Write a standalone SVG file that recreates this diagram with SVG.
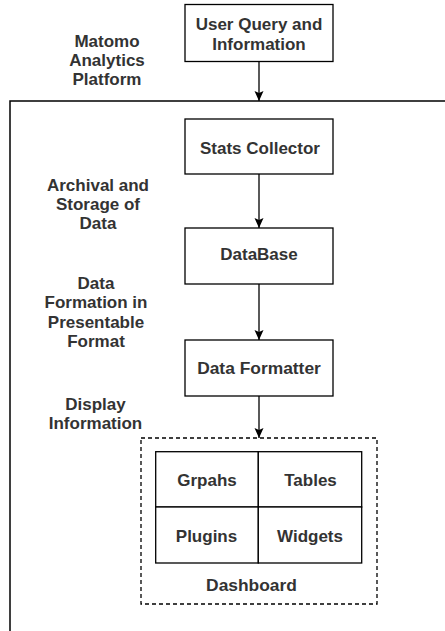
<svg xmlns="http://www.w3.org/2000/svg" width="445" height="631" viewBox="0 0 445 631">
  <style>
    .box { fill: #ffffff; stroke: #000000; stroke-width: 1.3; }
    .frame { fill: none; stroke: #000000; stroke-width: 1.5; }
    .dash { fill: none; stroke: #000000; stroke-width: 1.3; stroke-dasharray: 4 3; }
    .edge { fill: none; stroke: #000000; stroke-width: 1.3; }
    text { font-family: "Liberation Sans", Arial, sans-serif; font-size: 17px; font-weight: bold; fill: #333333; text-anchor: middle; }
  </style>
  <defs>
    <marker id="arrow" viewBox="0 0 10 10" markerWidth="10" markerHeight="10" refX="10" refY="5" orient="auto" markerUnits="userSpaceOnUse">
      <path d="M0,0.5 L10,5 L0,9.5 L2,5 Z" fill="#000000"/>
    </marker>
  </defs>
  <rect width="445" height="631" fill="#ffffff"/>

  <!-- platform boundary (open on the right and bottom) -->
  <g id="platform">
    <rect class="frame" x="10" y="101" width="460" height="560"/>
    <text x="107" y="46.5">Matomo</text>
    <text x="107" y="65.5">Analytics</text>
    <text x="107" y="84.5">Platform</text>
  </g>

  <!-- step labels on the left -->
  <g id="label-archival">
    <text x="98" y="190.5">Archival and</text>
    <text x="98" y="210">Storage of</text>
    <text x="98" y="229">Data</text>
  </g>
  <g id="label-formation">
    <text x="96" y="289">Data</text>
    <text x="96" y="308.3">Formation in</text>
    <text x="96" y="327.7">Presentable</text>
    <text x="96" y="346.7">Format</text>
  </g>
  <g id="label-display">
    <text x="95.5" y="410">Display</text>
    <text x="95.5" y="429">Information</text>
  </g>

  <!-- connectors -->
  <g id="connectors">
    <line class="edge" x1="259" y1="61.5" x2="259" y2="101" marker-end="url(#arrow)"/>
    <line class="edge" x1="259" y1="174" x2="259" y2="228" marker-end="url(#arrow)"/>
    <line class="edge" x1="259" y1="284" x2="259" y2="340" marker-end="url(#arrow)"/>
    <line class="edge" x1="259" y1="396" x2="259" y2="438" marker-end="url(#arrow)"/>
  </g>

  <g id="user-query">
    <rect class="box" x="185" y="4.5" width="148" height="57"/>
    <text x="259" y="30">User Query and</text>
    <text x="259" y="50">Information</text>
  </g>

  <g id="stats-collector">
    <rect class="box" x="185" y="119" width="148" height="55"/>
    <text x="260" y="154">Stats Collector</text>
  </g>

  <g id="database">
    <rect class="box" x="185" y="228" width="148" height="56"/>
    <text x="259" y="260">DataBase</text>
  </g>

  <g id="data-formatter">
    <rect class="box" x="185" y="340" width="148" height="56"/>
    <text x="259" y="374" style="font-size:17.4px">Data Formatter</text>
  </g>

  <!-- dashboard container with its four panels -->
  <g id="dashboard">
    <rect class="dash" x="141" y="438" width="236" height="166"/>
    <text x="251.5" y="590.5" style="font-size:17.4px">Dashboard</text>
  </g>
  <g id="graphs">
    <rect class="box" x="155.7" y="451.7" width="102.6" height="55.3"/>
    <text x="207" y="485.7">Grpahs</text>
  </g>
  <g id="tables">
    <rect class="box" x="258.3" y="451.7" width="103.4" height="55.3"/>
    <text x="310.5" y="485.7">Tables</text>
  </g>
  <g id="plugins">
    <rect class="box" x="155.7" y="507" width="102.6" height="56"/>
    <text x="206.5" y="541.7">Plugins</text>
  </g>
  <g id="widgets">
    <rect class="box" x="258.3" y="507" width="103.4" height="56"/>
    <text x="310" y="541.7">Widgets</text>
  </g>
</svg>
